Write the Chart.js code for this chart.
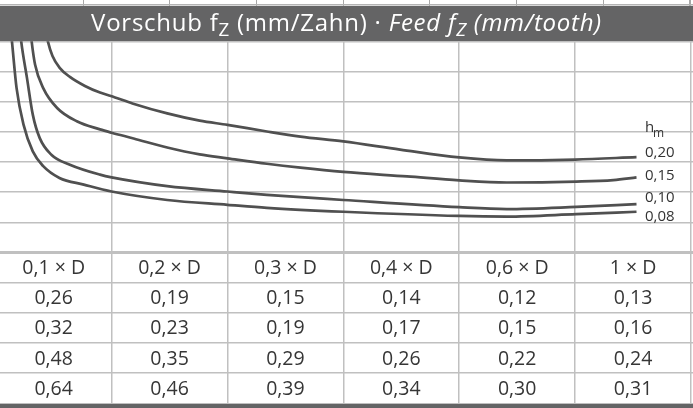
<!DOCTYPE html>
<html><head><meta charset="utf-8">
<script src="https://cdn.jsdelivr.net/npm/chart.js@4.4.1/dist/chart.umd.min.js"></script>
<style>
html,body{margin:0;padding:0;background:#fff;}
#wrap{position:relative;width:693px;height:408px;overflow:hidden;font-family:"Open Sans",sans-serif;}
#c{position:absolute;left:0;top:0;}
#topstrip{position:absolute;left:0;top:0;width:693px;height:6px;
  background:linear-gradient(#b4b4b4,#b4b4b4) 0 4px/100% 1.5px no-repeat,
  repeating-linear-gradient(to right,transparent 0,transparent 82.5px,#a8a8a8 82.5px,#a8a8a8 83.6px,transparent 83.6px,transparent 86.7px);}
#header{position:absolute;left:0;top:6px;width:693px;height:34.8px;background:#646465;color:#fff;
  font-size:24px;letter-spacing:0.75px;line-height:32px;text-align:center;white-space:nowrap;}
#header sub{font-size:0.78em;vertical-align:-0.28em;line-height:0;}
#bottom{position:absolute;left:0;top:404px;width:693px;height:4px;background:#646465;}
</style></head>
<body>
<div id="wrap">
<canvas id="c" width="693" height="408"></canvas>
<div id="topstrip"></div>
<div id="header">Vorschub f<sub>Z</sub> (mm/Zahn) · <i>Feed f<sub>Z</sub> (mm/tooth)</i></div>
<div id="bottom"></div>
</div>
<script>
// ---- data ----
// column headers: radial width of cut a_e
const aeLabels = ['0,1 × D','0,2 × D','0,3 × D','0,4 × D','0,6 × D','1 × D'];
// mean chip thickness h_m of each curve / table row
const hmLabels = ['0,08','0,10','0,15','0,20'];
// feed f_z (mm/tooth) per column, one array per h_m
const fz_hm008 = [0.26,0.19,0.15,0.14,0.12,0.13];
const fz_hm010 = [0.32,0.23,0.19,0.17,0.15,0.16];
const fz_hm015 = [0.48,0.35,0.29,0.26,0.22,0.24];
const fz_hm020 = [0.64,0.46,0.39,0.34,0.30,0.31];
// schematic curves: x in column units, y in grid rows from the top
const curveX_020 = [0.43,0.45,0.49,0.55,0.64,0.77,0.90,1.03,1.18,1.48,1.76,2.00,2.34,2.63,3.00,3.49,4.00,4.41,5.00,5.53];
const curveY_020 = [-0.37,0,0.49,0.87,1.18,1.48,1.70,1.86,2.06,2.39,2.63,2.77,2.99,3.16,3.32,3.59,3.85,3.95,3.92,3.84];
const curveX_015 = [0.30,0.31,0.34,0.41,0.53,0.70,0.90,1.00,1.19,1.48,1.76,2.00,2.34,2.63,3.00,3.55,4.00,4.41,5.01,5.33,5.53];
const curveY_015 = [-0.37,0,0.78,1.55,2.21,2.65,2.92,3.03,3.22,3.52,3.75,3.88,4.06,4.19,4.33,4.48,4.61,4.68,4.65,4.60,4.51];
const curveX_010 = [0.21,0.22,0.27,0.32,0.38,0.48,0.64,0.90,1.00,1.48,2.00,2.34,3.00,4.00,4.41,5.01,5.53];
const curveY_010 = [-0.37,0,1.22,2.43,3.21,3.76,4.09,4.42,4.51,4.80,4.98,5.09,5.26,5.50,5.56,5.49,5.40];
const curveX_008 = [0.13,0.14,0.18,0.24,0.32,0.41,0.55,0.76,1.00,1.48,2.00,2.34,3.00,4.00,4.41,5.01,5.53];
const curveY_008 = [-0.37,0,1.55,2.76,3.65,4.14,4.53,4.75,4.98,5.26,5.42,5.52,5.65,5.79,5.81,5.73,5.65];

// ---- build ----
const PLOT_ROWS = 7, TABLE_ROWS = 5;
const fzRows = [fz_hm008, fz_hm010, fz_hm015, fz_hm020];
const curves = [[curveX_008,curveY_008],[curveX_010,curveY_010],[curveX_015,curveY_015],[curveX_020,curveY_020]];
const fmt = v => v.toFixed(2).replace('.', ',');

const datasets = curves.map((c,i)=>({
  label: hmLabels[i],
  data: c[0].map((x,k)=>({x:x,y:c[1][k]})),
  showLine:true, pointRadius:0, borderWidth:2.7, borderColor:'#505050',
  cubicInterpolationMode:'monotone', fill:false
}));

const textPlugin = {
  id:'textPlugin',
  afterDraw(chart){
    const {ctx, scales:{x,y}} = chart;
    ctx.save();
    // table
    ctx.fillStyle = '#363636';
    ctx.textAlign='center'; ctx.textBaseline='middle';
    ctx.font = '19.5px "Open Sans"';
    const rows = [aeLabels].concat(fzRows.map(r=>r.map(fmt)));
    rows.forEach((row,r)=>row.forEach((t,i)=>{
      ctx.fillText(t, x.getPixelForValue(i+0.5), y.getPixelForValue(PLOT_ROWS+r+0.5)+1);
    }));
    // curve labels
    const lx = x.getPixelForValue(5.603);
    const labelRow = [5.83, 5.18, 4.47, 3.69];
    ctx.textAlign='left';
    ctx.font = '15px "Open Sans"';
    ctx.fillStyle = '#333';
    hmLabels.forEach((t,i)=>ctx.fillText(t, lx, y.getPixelForValue(labelRow[i])));
    ctx.fillText('h', lx, y.getPixelForValue(2.88));
    ctx.font = '12px "Open Sans"';
    ctx.fillText('m', lx+8, y.getPixelForValue(2.88)+5);
    ctx.restore();
  }
};

const gridColor = '#c0c0c0';
new Chart(document.getElementById('c'), {
  type:'scatter',
  data:{datasets},
  options:{
    responsive:false, animation:false, events:[],
    layout:{padding:{top:41.3,bottom:4.7,left:0,right:0}},
    plugins:{legend:{display:false},tooltip:{enabled:false}},
    scales:{
      x:{type:'linear',min:0.037,max:6.0175,
         ticks:{display:false,stepSize:1,includeBounds:false},
         grid:{color:gridColor,lineWidth:1.5,drawTicks:false},
         border:{display:false}},
      y:{type:'linear',min:0,max:PLOT_ROWS+TABLE_ROWS,reverse:true,
         ticks:{display:false,stepSize:1},
         grid:{color:gridColor,drawTicks:false,
               lineWidth:ctx=>ctx.tick && ctx.tick.value===PLOT_ROWS ? 3 : 1.5},
         border:{display:false}}
    }
  },
  plugins:[textPlugin]
});
</script>
</body></html>
